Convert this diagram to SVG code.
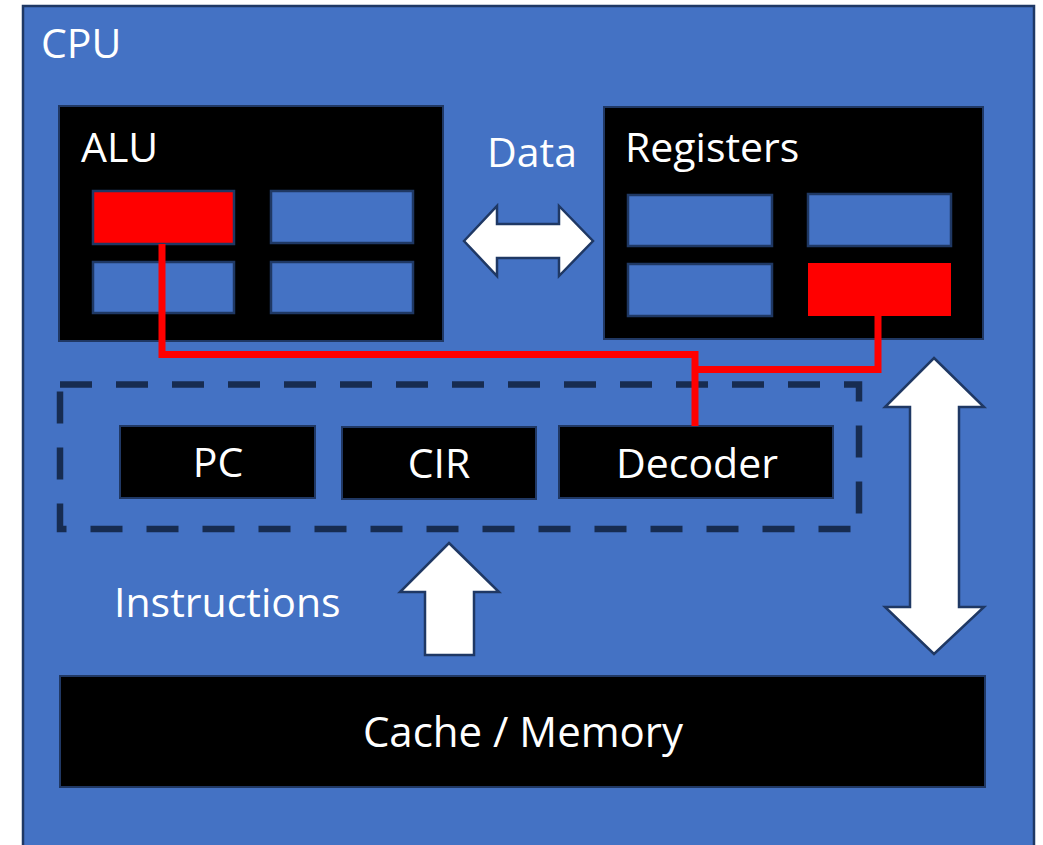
<svg xmlns="http://www.w3.org/2000/svg" width="1043" height="845" viewBox="0 0 1043 845">
  <style>
    .lbl { font-family: "Open Sans", "Noto Sans", "Liberation Sans", sans-serif; font-size: 41px; fill: #ffffff; }
    .mid { text-anchor: middle; }
    .unit { fill: #000000; stroke: #203864; stroke-width: 2; }
    .cell { fill: #4472C4; stroke: #1F3864; stroke-width: 2.5; }
    .hot { fill: #FF0000; }
    .bus { fill: none; stroke: #FF0000; stroke-width: 7; stroke-linejoin: miter; }
    .flow { fill: #ffffff; stroke: #1F3864; stroke-width: 2.5; stroke-linejoin: miter; }
  </style>

  <rect width="1043" height="845" fill="#ffffff"/>

  <!-- processor boundary -->
  <g id="cpu">
    <rect x="23" y="6" width="1011" height="845" fill="#4472C4" stroke="#1F3864" stroke-width="2.5"/>
    <text class="lbl" x="41" y="58">CPU</text>
  </g>

  <!-- arithmetic logic unit -->
  <g id="alu">
    <rect class="unit" x="59" y="106" width="384" height="235"/>
    <text class="lbl" x="81" y="162">ALU</text>
    <rect class="cell hot" x="93" y="191" width="141" height="53"/>
    <rect class="cell" x="271" y="191" width="142" height="52"/>
    <rect class="cell" x="93" y="262" width="141" height="51"/>
    <rect class="cell" x="271" y="262" width="142" height="51"/>
  </g>

  <!-- register file -->
  <g id="registers">
    <rect class="unit" x="604" y="107" width="379" height="232"/>
    <text class="lbl" x="625" y="162">Registers</text>
    <rect class="cell" x="628" y="195" width="144" height="51"/>
    <rect class="cell" x="808" y="194" width="143" height="52"/>
    <rect class="cell" x="628" y="264" width="144" height="52"/>
    <rect class="hot" x="808" y="263" width="143" height="53"/>
  </g>

  <!-- control unit group -->
  <g id="control">
    <rect x="60" y="384.5" width="799" height="144.5" fill="none" stroke="#172C51" stroke-width="6.5" stroke-dasharray="32 24"/>
  </g>

  <g id="pc">
    <rect class="unit" x="120" y="426" width="195" height="72"/>
    <text class="lbl mid" x="218" y="477">PC</text>
  </g>

  <g id="cir">
    <rect class="unit" x="342" y="427" width="194" height="72"/>
    <text class="lbl mid" x="439" y="478">CIR</text>
  </g>

  <g id="decoder">
    <rect class="unit" x="559" y="426" width="274" height="72"/>
    <text class="lbl mid" x="697" y="478">Decoder</text>
  </g>

  <!-- main memory -->
  <g id="memory">
    <rect class="unit" x="60" y="676" width="925" height="111"/>
    <text class="lbl mid" x="523" y="747" style="font-size:42px">Cache / Memory</text>
  </g>

  <!-- connectors -->
  <g id="connectors">
    <!-- control signals from decoder -->
    <polyline class="bus" points="162,244 162,354.5 695,354.5 695,426"/>
    <polyline class="bus" points="878,316 878,369.5 695,369.5"/>

    <!-- data path ALU <-> registers -->
    <polygon class="flow" points="464,241 497,206 497,224 559,224 559,206 593,241 559,276 559,258 497,258 497,276"/>
    <text class="lbl mid" x="532" y="167">Data</text>

    <!-- instruction fetch -->
    <polygon class="flow" points="449,543 499,592 474,592 474,655 425,655 425,592 400,592"/>
    <text class="lbl" x="114" y="617">Instructions</text>

    <!-- registers <-> memory -->
    <polygon class="flow" points="934,358 984,407 959,407 959,607 984,607 934,654 885,607 910,607 910,407 885,407"/>
  </g>
</svg>
